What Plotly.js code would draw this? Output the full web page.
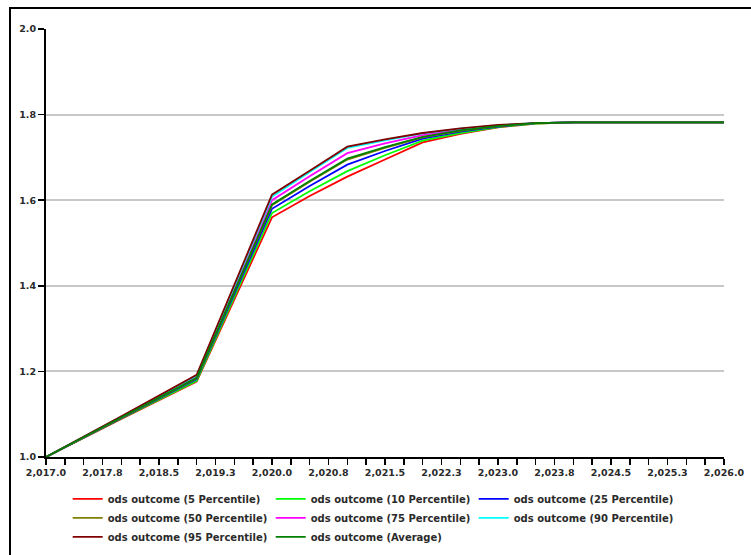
<!DOCTYPE html>
<html>
<head>
<meta charset="utf-8">
<script src="https://cdn.plot.ly/plotly-3.0.1.min.js"></script>
<style>
  html, body { margin: 0; padding: 0; background: #ffffff; }
  #wrap { position: relative; width: 751px; height: 555px; overflow: hidden; }
  #chart { position: absolute; left: 0; top: 0; width: 751px; height: 555px; }
  #frame { position: absolute; left: 9px; top: 7px; width: 900px; height: 700px;
           border-left: 2px solid #000; border-top: 2px solid #000; pointer-events: none; }
</style>
</head>
<body>
<div id="wrap">
  <div id="chart"></div>
  <div id="frame"></div>
</div>
<script>
// ---- data ----
const years = [2017, 2018, 2019, 2020, 2020.5, 2021, 2021.5, 2022, 2022.5, 2023, 2023.5, 2024, 2025, 2026];

const p5   = [1.000, 1.089, 1.176, 1.560, 1.610, 1.655, 1.695, 1.735, 1.755, 1.770, 1.779, 1.782, 1.782, 1.782];
const p10  = [1.000, 1.090, 1.178, 1.570, 1.621, 1.668, 1.705, 1.739, 1.757, 1.771, 1.779, 1.782, 1.782, 1.782];
const p25  = [1.000, 1.091, 1.182, 1.580, 1.633, 1.683, 1.715, 1.744, 1.760, 1.772, 1.780, 1.782, 1.782, 1.782];
const p50  = [1.000, 1.092, 1.184, 1.588, 1.643, 1.695, 1.722, 1.747, 1.762, 1.773, 1.780, 1.782, 1.782, 1.782];
const p75  = [1.000, 1.093, 1.188, 1.600, 1.656, 1.710, 1.733, 1.752, 1.765, 1.774, 1.780, 1.782, 1.782, 1.782];
const p90  = [1.000, 1.094, 1.190, 1.608, 1.666, 1.722, 1.740, 1.756, 1.767, 1.775, 1.780, 1.782, 1.782, 1.782];
const p95  = [1.000, 1.095, 1.192, 1.613, 1.669, 1.725, 1.742, 1.757, 1.768, 1.776, 1.780, 1.782, 1.782, 1.782];
const pAvg = [1.000, 1.092, 1.185, 1.590, 1.645, 1.697, 1.724, 1.748, 1.763, 1.773, 1.780, 1.782, 1.782, 1.782];

const seriesNames = [
  "ods outcome (5 Percentile)",
  "ods outcome (10 Percentile)",
  "ods outcome (25 Percentile)",
  "ods outcome (50 Percentile)",
  "ods outcome (75 Percentile)",
  "ods outcome (90 Percentile)",
  "ods outcome (95 Percentile)",
  "ods outcome (Average)"
];
const seriesValues = [p5, p10, p25, p50, p75, p90, p95, pAvg];
const seriesColors = ["#ff0000", "#00ff00", "#0000ff", "#808000", "#ff00ff", "#00ffff", "#800000", "#008000"];

const xTickVals = [2017, 2017.75, 2018.5, 2019.25, 2020, 2020.75, 2021.5, 2022.25, 2023, 2023.75, 2024.5, 2025.25, 2026];
const xTickText = ["2,017.0", "2,017.8", "2,018.5", "2,019.3", "2,020.0", "2,020.8", "2,021.5", "2,022.3", "2,023.0", "2,023.8", "2,024.5", "2,025.3", "2,026.0"];
const yTickVals = [1.0, 1.2, 1.4, 1.6, 1.8, 2.0];
const yTickText = ["1.0", "1.2", "1.4", "1.6", "1.8", "2.0"];

// ---- build traces ----
const traces = seriesValues.map((vals, i) => ({
  type: "scatter",
  mode: "lines",
  x: years,
  y: vals,
  name: seriesNames[i],
  line: { color: seriesColors[i], width: 1.8 },
  hoverinfo: "x+y+name"
}));

const font = { family: "DejaVu Sans, Verdana, sans-serif", size: 9.5, color: "#2a2a2a", weight: "bold" };

const layout = {
  width: 751,
  height: 555,
  margin: { l: 46, r: 27, t: 29, b: 98, pad: 0, autoexpand: false },
  paper_bgcolor: "rgba(0,0,0,0)",
  plot_bgcolor: "#ffffff",
  font: font,
  showlegend: true,
  legend: {
    orientation: "h",
    x: 0.032,
    xanchor: "left",
    y: -0.064,
    yanchor: "top",
    entrywidth: 158,
    entrywidthmode: "pixels",
    font: { family: "DejaVu Sans, Verdana, sans-serif", size: 10, color: "#2a2a2a", weight: "bold" },
    bgcolor: "rgba(0,0,0,0)",
    traceorder: "normal"
  },
  xaxis: {
    range: [2017, 2026],
    tickmode: "array",
    tickvals: xTickVals,
    ticktext: xTickText,
    ticks: "outside",
    ticklen: 6,
    tickwidth: 1.5,
    tickcolor: "#000",
    minor: { tickmode: "linear", tick0: 2017, dtick: 0.25, ticks: "outside", ticklen: 6, tickwidth: 1.5, tickcolor: "#000", showgrid: false },
    showline: true,
    linecolor: "#000",
    linewidth: 2,
    showgrid: false,
    zeroline: false,
    tickfont: font,
    fixedrange: true
  },
  yaxis: {
    range: [1.0, 2.0],
    tickmode: "array",
    tickvals: yTickVals,
    ticktext: yTickText,
    ticks: "outside",
    ticklen: 6,
    tickwidth: 1.5,
    tickcolor: "#000",
    showline: true,
    linecolor: "#000",
    linewidth: 2,
    showgrid: true,
    gridcolor: "#c8c8c8",
    gridwidth: 2,
    zeroline: false,
    tickfont: font,
    fixedrange: true
  }
};

Plotly.newPlot("chart", traces, layout, { displayModeBar: false, staticPlot: true });
</script>
</body>
</html>
